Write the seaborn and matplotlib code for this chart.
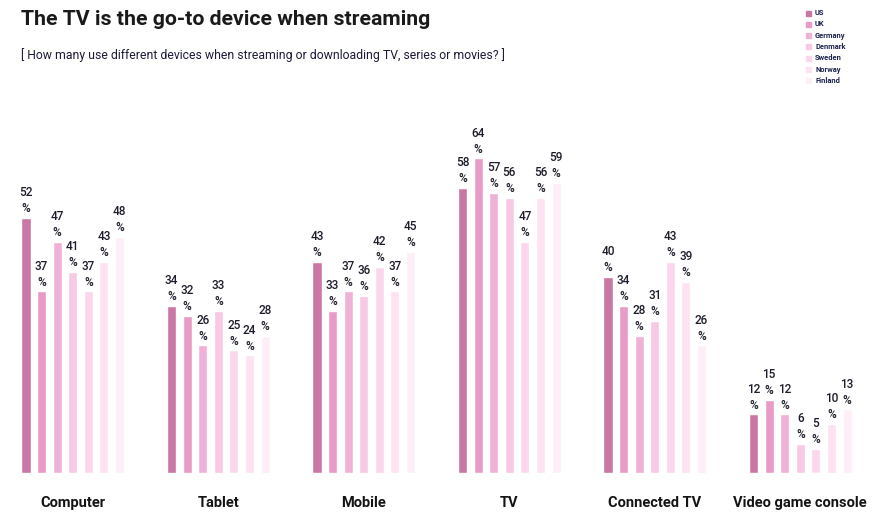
import pandas as pd
import seaborn as sns
import matplotlib.pyplot as plt

# Values (percent)
devices = ['Computer', 'Tablet', 'Mobile', 'TV', 'Connected TV', 'Video game console']
countries = ['US', 'UK', 'Germany', 'Denmark', 'Sweden', 'Norway', 'Finland']
us = [52, 34, 43, 58, 40, 12]
uk = [37, 32, 33, 64, 34, 15]
germany = [47, 26, 37, 57, 28, 12]
denmark = [41, 33, 36, 56, 31, 6]
sweden = [37, 25, 42, 47, 43, 5]
norway = [43, 24, 37, 56, 39, 10]
finland = [48, 28, 45, 59, 26, 13]
colors = ['#c977a5', '#e89bc7', '#efb2d6', '#f8c9e5', '#fbd6ec', '#fde2f1', '#fdeef7']

series = [us, uk, germany, denmark, sweden, norway, finland]
rows = []
for country, vals in zip(countries, series):
    for device, v in zip(devices, vals):
        rows.append((device, country, v))
df = pd.DataFrame(rows, columns=['device', 'country', 'share'])

sns.set_style('white')
plt.rcParams['font.family'] = ['Roboto', 'DejaVu Sans']

fig = plt.figure(figsize=(8.83, 5.22), dpi=100)
ax = fig.add_axes([0.0, 0.093, 0.9887, 0.66])

sns.barplot(data=df, x='device', y='share', hue='country', order=devices,
            hue_order=countries, palette=colors, width=0.75, gap=0.42,
            saturation=1, legend=False, ax=ax)

# value labels
for container in ax.containers:
    ax.bar_label(container, labels=[f'{int(v)}\n%' for v in container.datavalues],
                 padding=2, fontsize=8.5, fontweight='medium', color='#1c1c2a',
                 linespacing=1.3)

ax.set_ylim(0, 70)
ax.set_xlim(-0.5, 5.5)
ax.set_xlabel('')
ax.set_ylabel('')
ax.set_yticks([])
ax.tick_params(axis='x', length=0, pad=16)
for lbl in ax.get_xticklabels():
    lbl.set_fontweight('bold')
    lbl.set_fontsize(10.5)
    lbl.set_color('#141414')
sns.despine(ax=ax, left=True, bottom=True)

fig.text(0.024, 0.962, 'The TV is the go-to device when streaming', fontsize=15.3,
         fontweight='bold', color='#1a1a1a', va='center')
fig.text(0.024, 0.895, '[ How many use different devices when streaming or downloading TV, series or movies? ]',
         fontsize=8.85, color='#1c1c3a', va='center')

# small legend, top right
for i, (country, c) in enumerate(zip(countries, colors)):
    y = 1 - (13 + i * 11.3) / 522
    fig.patches.append(plt.Rectangle((806 / 883, y - 2.5 / 522), 5 / 883, 5 / 522,
                                     transform=fig.transFigure, color=c, figure=fig))
    fig.text(815 / 883, y, country, fontsize=5.4, fontweight='bold', color='#1d2350', va='center')

fig.savefig('out.png', dpi=100)
